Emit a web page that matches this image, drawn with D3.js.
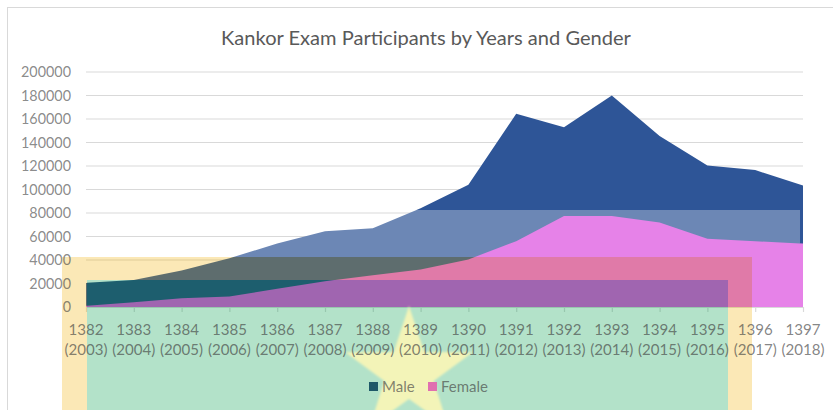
<!DOCTYPE html>
<html>
<head>
<meta charset="utf-8">
<script src="https://cdn.jsdelivr.net/npm/d3@7"></script>
<style>
  html, body { margin: 0; padding: 0; background: #ffffff; }
  svg { display: block; }
  text { font-family: Lato, "Open Sans", sans-serif; }
</style>
</head>
<body>
<script>
// ---- data ----
const years = ["1382","1383","1384","1385","1386","1387","1388","1389","1390","1391","1392","1393","1394","1395","1396","1397"];
const yearsAD = ["(2003)","(2004)","(2005)","(2006)","(2007)","(2008)","(2009)","(2010)","(2011)","(2012)","(2013)","(2014)","(2015)","(2016)","(2017)","(2018)"];
const male = [20500, 23000, 31000, 41500, 54000, 64500, 67000, 84000, 104000, 164500, 153000, 180000, 145500, 120500, 116500, 103500];
const female = [1000, 4000, 7500, 9000, 15500, 22000, 27000, 32000, 40500, 56000, 77500, 77500, 72000, 58000, 56000, 54000];
const yTickValues = [0, 20000, 40000, 60000, 80000, 100000, 120000, 140000, 160000, 180000, 200000];
const seriesNames = ["Male", "Female"];
const title = "Kankor Exam Participants by Years and Gender";

// ---- layout ----
const W = 833, H = 410;
const svg = d3.select("body").append("svg").attr("width", W).attr("height", H);
const x = d3.scalePoint().domain(years).range([86, 803]).padding(0);
const y = d3.scaleLinear().domain([0, 200000]).range([307, 72]);
const areaGen = d3.area().x((d, i) => x(years[i])).y0(y(0)).y1(d => y(d));

// overlay regions (the translucent picture laid over the lower part of the chart)
const regions = [
  { r: [0, 0, W, H],       bg: "#ffffff", male: "#2E5597", female: "#E682E8", grid: "#D9D9D9" },
  { r: [8, 210, 792, 200], bg: "#ffffff", male: "#6C87B5", female: "#E682E8", grid: "#D9D9D9" },
  { r: [62, 257, 690, 160], bg: "#FBE8B6", male: "#5E6D6E", female: "#E07AA8", grid: "#E0CC98" },
  { r: [87, 280, 641, 140], bg: "#B3E2C9", male: "#1D5E6E", female: "#A065B0", grid: "#98C7AE" }
];

const defs = svg.append("defs");
defs.append("filter").attr("id", "soft").append("feGaussianBlur").attr("stdDeviation", 1.2);

regions.forEach((reg, i) => {
  defs.append("clipPath").attr("id", "clip" + i)
    .append("rect").attr("x", reg.r[0]).attr("y", reg.r[1]).attr("width", reg.r[2]).attr("height", reg.r[3]);
  const g = svg.append("g").attr("clip-path", `url(#clip${i})`);
  g.append("rect").attr("x", reg.r[0]).attr("y", reg.r[1]).attr("width", reg.r[2]).attr("height", reg.r[3]).attr("fill", reg.bg);
  g.selectAll("line.grid").data(yTickValues.filter(v => v > 0)).join("line")
    .attr("x1", 86).attr("x2", 803).attr("y1", d => y(d)).attr("y2", d => y(d))
    .attr("stroke", reg.grid).attr("stroke-width", 1.2);
  const ax = g.append("g").attr("transform", `translate(0,${y(0)})`)
    .call(d3.axisBottom(x).tickSize(5).tickSizeOuter(0).tickFormat(""));
  ax.selectAll("path,line").attr("stroke", reg.grid).attr("stroke-width", 1.2);
  g.append("path").attr("d", areaGen(male)).attr("fill", reg.male);
  g.append("path").attr("d", areaGen(female)).attr("fill", reg.female);
  if (i === 3) {
    // star of the overlay picture
    const cx = 409, cy = 373, R = 67, r = 26;
    const pts = d3.range(10).map(k => {
      const a = -Math.PI / 2 + k * Math.PI / 5;
      const rad = k % 2 === 0 ? R : r;
      return [cx + rad * Math.cos(a), cy + rad * Math.sin(a)];
    });
    g.append("polygon").attr("points", pts.map(p => p.join(",")).join(" "))
      .attr("fill", "#F3F4B8").attr("filter", "url(#soft)");
  }
});

// chart border
svg.append("rect").attr("x", 7.5).attr("y", 7.5).attr("width", 840).attr("height", 420)
  .attr("fill", "none").attr("stroke", "#D9D9D9");

function fit(sel, target) {
  const w = sel.node().getComputedTextLength();
  const fs = parseFloat(sel.attr("font-size"));
  sel.attr("font-size", (fs * target / w).toFixed(2));
}

// title
const t = svg.append("text").attr("x", 426).attr("y", 45).attr("text-anchor", "middle")
  .attr("font-size", 18).attr("fill", "#595959").text(title);
fit(t, 410);

// y-axis labels
const yl = svg.append("g");
const yLabs = yl.selectAll("text").data(yTickValues).join("text")
  .attr("x", 71).attr("y", d => y(d)).attr("dy", "0.36em").attr("text-anchor", "end")
  .attr("font-size", 15).attr("fill", "#404040").attr("fill-opacity", 0.62)
  .text(d => String(d));
{
  const n = yLabs.filter(d => d === 200000);
  const w = n.node().getComputedTextLength();
  yLabs.attr("font-size", (15 * 50 / w).toFixed(2));
}

// x-axis labels
const xl = svg.append("g");
const l1 = xl.selectAll("text.l1").data(years).join("text").attr("class", "l1")
  .attr("x", d => x(d)).attr("y", 335).attr("text-anchor", "middle")
  .attr("font-size", 15).attr("fill", "#404040").attr("fill-opacity", 0.65).text(d => d);
const l2 = xl.selectAll("text.l2").data(years).join("text").attr("class", "l2")
  .attr("x", d => x(d)).attr("y", 355).attr("text-anchor", "middle")
  .attr("font-size", 15).attr("fill", "#404040").attr("fill-opacity", 0.65).text((d, i) => yearsAD[i]);
{
  const w = l2.node().getComputedTextLength();
  const fs = (15 * 43 / w).toFixed(2);
  l1.attr("font-size", fs); l2.attr("font-size", fs);
}

// legend
const legendColors = ["#1E5868", "#E070B0"];
const legendX = [369, 428];
const lg = svg.append("g");
seriesNames.forEach((s, i) => {
  lg.append("rect").attr("x", legendX[i]).attr("y", 382).attr("width", 9).attr("height", 9).attr("fill", legendColors[i]);
  lg.append("text").attr("x", legendX[i] + 13).attr("y", 391.5).attr("font-size", 15)
    .attr("fill", "#404040").attr("fill-opacity", 0.65).text(s);
});
</script>
</body>
</html>
